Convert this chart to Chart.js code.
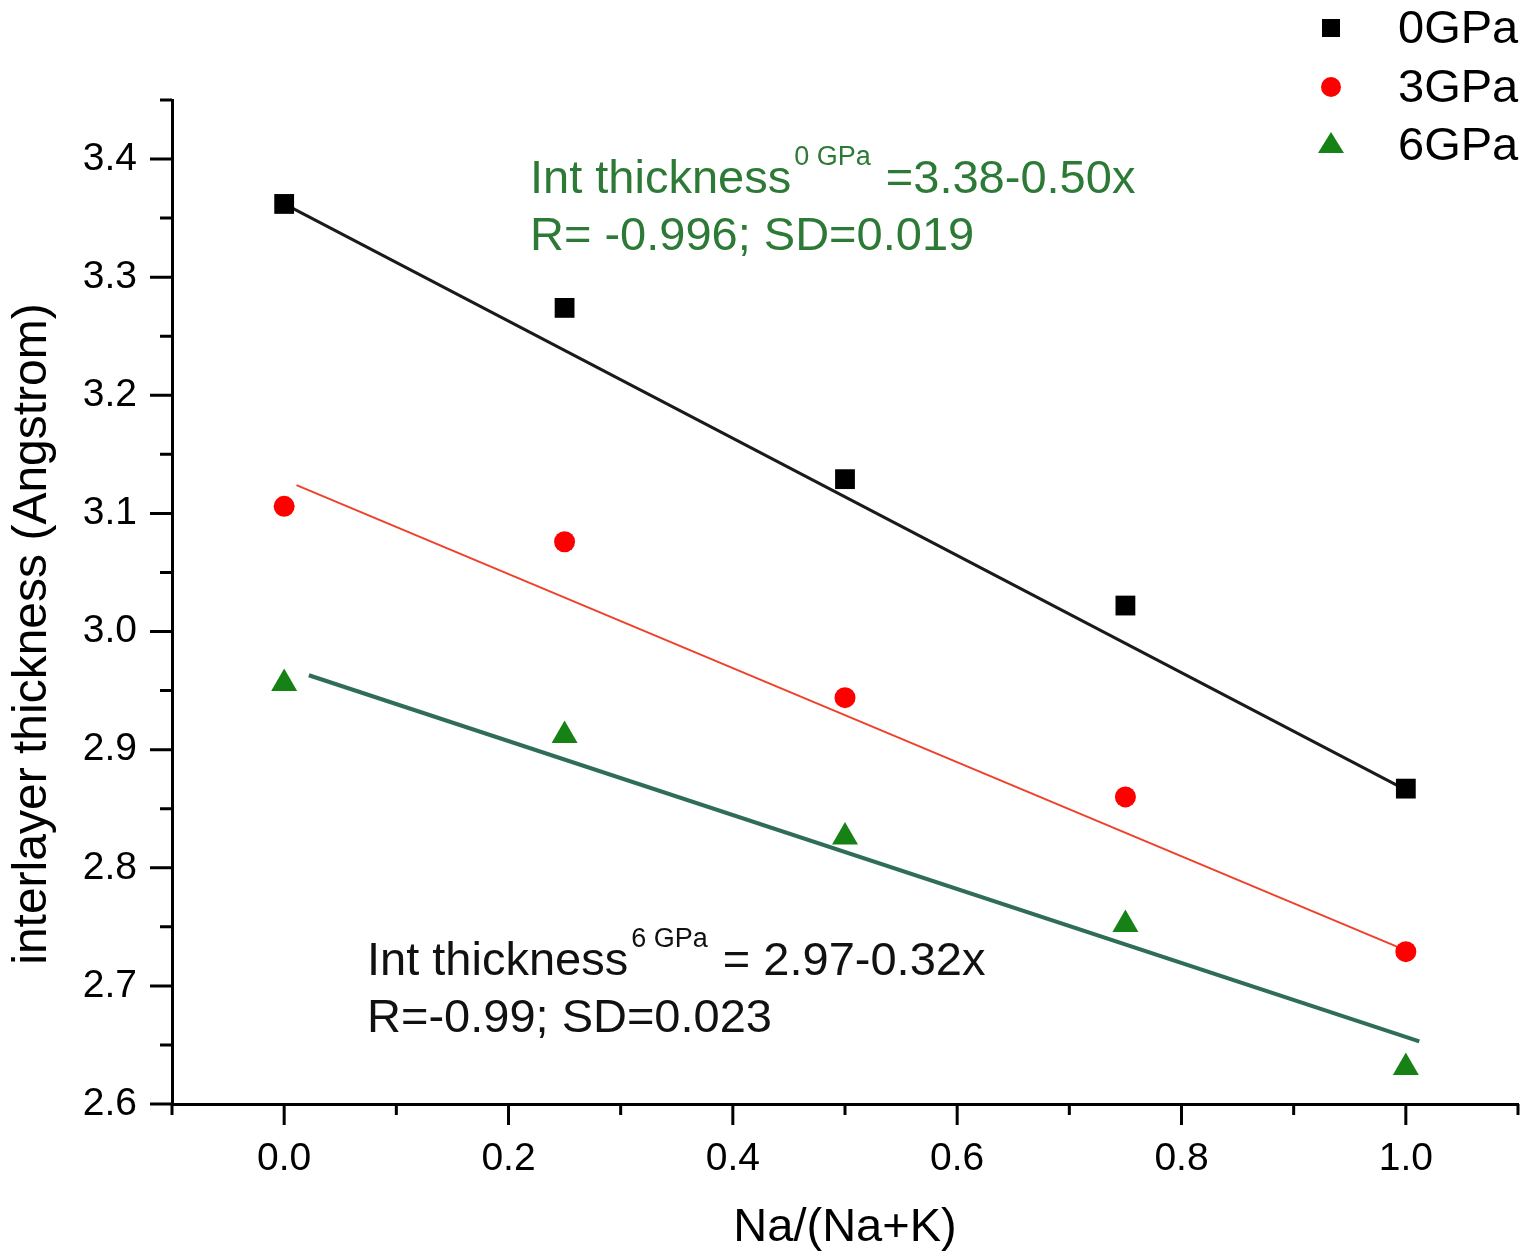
<!DOCTYPE html>
<html>
<head>
<meta charset="utf-8">
<script src="https://cdn.jsdelivr.net/npm/chart.js@4.4.1/dist/chart.umd.min.js"></script>
<style>
  body { margin: 0; background: #fff; }
  #wrap { width: 1527px; height: 1256px; }
</style>
</head>
<body>
<div id="wrap"><canvas id="myChart" width="1527" height="1256"></canvas></div>
<script>
// data
const seriesNames = ['0GPa', '3GPa', '6GPa'];
const naRatio = [0, 0.25, 0.5, 0.75, 1.0];
const thick0 = [3.362, 3.274, 3.129, 3.022, 2.867];
const thick3 = [3.106, 3.076, 2.944, 2.860, 2.729];
const thick6 = [2.956, 2.912, 2.826, 2.752, 2.631];

// fitted lines (end points as drawn)
const fit0X = [0.0, 1.0];
const fit0Y = [3.362, 2.866];
const fit3X = [0.011, 1.0];
const fit3Y = [3.124, 2.730];
const fit6X = [0.022, 1.012];
const fit6Y = [2.963, 2.653];

// axis ticks
const xTickValues = [0.0, 0.2, 0.4, 0.6, 0.8, 1.0];
const xMinorValues = [-0.1, 0.1, 0.3, 0.5, 0.7, 0.9, 1.1];
const yTickValues = [2.6, 2.7, 2.8, 2.9, 3.0, 3.1, 3.2, 3.3, 3.4];
const yMinorValues = [2.65, 2.75, 2.85, 2.95, 3.05, 3.15, 3.25, 3.35, 3.45];

const yTitle = 'interlayer thickness (Angstrom)';
const FONT = '"Liberation Sans", Arial, sans-serif';

function toPoints(xs, ys) {
    return xs.map((x, i) => ({ x: x, y: ys[i] }));
}

// Draws the major / minor tick marks outside the axes
const axisTicks = {
    id: 'axisTicks',
    afterDraw(chart) {
        const ctx = chart.ctx;
        const area = chart.chartArea;
        const x = chart.scales.x, y = chart.scales.y;
        ctx.save();
        ctx.strokeStyle = '#000';
        ctx.lineWidth = 3;
        ctx.beginPath();
        xTickValues.forEach(v => {
            const px = x.getPixelForValue(v);
            ctx.moveTo(px, area.bottom); ctx.lineTo(px, area.bottom + 21);
        });
        xMinorValues.forEach(v => {
            const px = x.getPixelForValue(v);
            ctx.moveTo(px, area.bottom); ctx.lineTo(px, area.bottom + 11);
        });
        yTickValues.forEach(v => {
            const py = y.getPixelForValue(v);
            ctx.moveTo(area.left - 22, py); ctx.lineTo(area.left, py);
        });
        yMinorValues.forEach(v => {
            const py = y.getPixelForValue(v);
            ctx.moveTo(area.left - 12, py); ctx.lineTo(area.left, py);
        });
        ctx.stroke();

        // y axis title, sits a bit below the middle of the axis in the original
        ctx.translate(33, 634);
        ctx.rotate(-Math.PI / 2);
        ctx.font = '48px ' + FONT;
        ctx.fillStyle = '#000';
        ctx.textAlign = 'center';
        ctx.textBaseline = 'middle';
        ctx.fillText(yTitle, 0, 0);
        ctx.restore();
    }
};

// legend in the top right corner
const cornerLegend = {
    id: 'cornerLegend',
    afterDraw(chart) {
        const ctx = chart.ctx;
        const mx = 1331, tx = 1398;
        const rows = [28, 87, 145];
        ctx.save();
        ctx.font = '47px ' + FONT;
        ctx.textBaseline = 'middle';
        for (let i = 0; i < 3; i++) {
            const ds = chart.data.datasets[i];
            const cy = rows[i];
            ctx.fillStyle = ds.backgroundColor;
            ctx.beginPath();
            if (ds.pointStyle === 'rect') {
                ctx.rect(mx - 9, cy - 9, 18, 18);
            } else if (ds.pointStyle === 'circle') {
                ctx.arc(mx, cy, 10, 0, Math.PI * 2);
            } else {
                ctx.moveTo(mx, cy - 13);
                ctx.lineTo(mx + 13, cy + 8);
                ctx.lineTo(mx - 13, cy + 8);
                ctx.closePath();
            }
            ctx.fill();
            ctx.fillStyle = '#000';
            ctx.fillText(seriesNames[i], tx, cy + 2);
        }
        ctx.restore();
    }
};

function drawEquation(ctx, x, y, main, sup, rest, color) {
    ctx.fillStyle = color;
    ctx.textBaseline = 'alphabetic';
    ctx.font = '47px ' + FONT;
    ctx.fillText(main, x, y);
    const w1 = ctx.measureText(main).width + 3;
    ctx.font = '27px ' + FONT;
    ctx.fillText(sup, x + w1, y - 28);
    const w2 = ctx.measureText(sup).width;
    ctx.font = '47px ' + FONT;
    ctx.fillText(rest, x + w1 + w2 + 2, y);
}

const fitNotes = {
    id: 'fitNotes',
    afterDraw(chart) {
        const ctx = chart.ctx;
        ctx.save();
        const green = '#2d7a37';
        drawEquation(ctx, 530, 193, 'Int thickness', '0 GPa', ' =3.38-0.50x', green);
        ctx.fillText('R= -0.996; SD=0.019', 530, 250);
        drawEquation(ctx, 367, 975, 'Int thickness', '6 GPa', ' = 2.97-0.32x', '#111');
        ctx.fillText('R=-0.99; SD=0.023', 367, 1032);
        ctx.restore();
    }
};

const ctx = document.getElementById('myChart').getContext('2d');
const myChart = new Chart(ctx, {
    type: 'scatter',
    data: {
        datasets: [{
            label: seriesNames[0],
            data: toPoints(naRatio, thick0),
            pointStyle: 'rect',
            pointRadius: 14,
            backgroundColor: '#000000',
            borderColor: '#000000',
            borderWidth: 0,
            order: 0
        }, {
            label: seriesNames[1],
            data: toPoints(naRatio, thick3),
            pointStyle: 'circle',
            pointRadius: 10.5,
            backgroundColor: '#ff0000',
            borderColor: '#ff0000',
            borderWidth: 0,
            order: 0
        }, {
            label: seriesNames[2],
            data: toPoints(naRatio, thick6),
            pointStyle: 'triangle',
            pointRadius: 15,
            backgroundColor: '#168216',
            borderColor: '#168216',
            borderWidth: 0,
            order: 0
        }, {
            type: 'line',
            data: toPoints(fit0X, fit0Y),
            borderColor: '#1a1a1a',
            borderWidth: 3,
            pointRadius: 0,
            fill: false,
            order: 1
        }, {
            type: 'line',
            data: toPoints(fit3X, fit3Y),
            borderColor: '#f0402a',
            borderWidth: 2,
            pointRadius: 0,
            fill: false,
            order: 1
        }, {
            type: 'line',
            data: toPoints(fit6X, fit6Y),
            borderColor: '#2f6d57',
            borderWidth: 4,
            pointRadius: 0,
            fill: false,
            order: 1
        }]
    },
    options: {
        responsive: false,
        animation: false,
        events: [],
        layout: { autoPadding: false, padding: { top: 100, right: 9, left: 0, bottom: 0 } },
        plugins: {
            legend: { display: false },
            tooltip: { enabled: false }
        },
        scales: {
            x: {
                type: 'linear',
                min: -0.1,
                max: 1.1,
                afterBuildTicks: axis => { axis.ticks = xTickValues.map(v => ({ value: v })); },
                afterFit: axis => {
                    axis.height = 152;
                    axis.paddingLeft = 0;
                    axis.paddingRight = 0;
                },
                grid: { display: false, drawTicks: false, tickLength: 0 },
                border: { display: true, color: '#000', width: 3 },
                ticks: {
                    padding: 32,
                    color: '#000',
                    font: { family: FONT, size: 39 },
                    callback: v => Number(v).toFixed(1)
                },
                title: {
                    display: true,
                    text: 'Na/(Na+K)',
                    color: '#000',
                    font: { family: FONT, size: 47 },
                    padding: { top: 0, bottom: 0 }
                }
            },
            y: {
                type: 'linear',
                min: 2.6,
                max: 3.45,
                afterBuildTicks: axis => { axis.ticks = yTickValues.map(v => ({ value: v })); },
                afterFit: axis => {
                    axis.width = 172;
                    axis.paddingTop = 0;
                    axis.paddingBottom = 0;
                },
                grid: { display: false, drawTicks: false, tickLength: 0 },
                border: { display: true, color: '#000', width: 3 },
                ticks: {
                    padding: 35,
                    color: '#000',
                    font: { family: FONT, size: 39 },
                    callback: v => Number(v).toFixed(1)
                }
            }
        }
    },
    plugins: [axisTicks, cornerLegend, fitNotes]
});
</script>
</body>
</html>
